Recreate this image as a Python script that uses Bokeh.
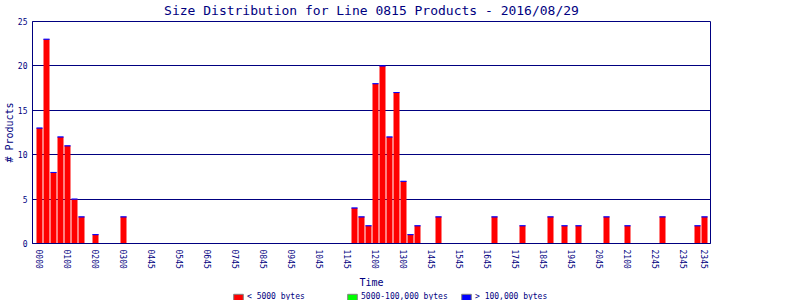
from bokeh.plotting import figure
from bokeh.layouts import column
from bokeh.models import ColumnDataSource, FixedTicker, Legend, LegendItem, Range1d
from bokeh.embed import file_html
from bokeh.resources import INLINE
import pandas as pd

TITLE = "Size Distribution for Line 0815 Products - 2016/08/29"
SERIES = ["< 5000 bytes", "5000-100,000 bytes", "> 100,000 bytes"]
COLORS = ["#ff0000", "#00ff00", "#0000ff"]

# 96 fifteen-minute bins (index 0 = 00:00 ... 95 = 23:45)
small = [13, 23, 8, 12, 11, 5, 3, 0, 1, 0, 0, 0,
         3, 0, 0, 0, 0, 0, 0, 0, 0, 0, 0, 0,
         0, 0, 0, 0, 0, 0, 0, 0, 0, 0, 0, 0,
         0, 0, 0, 0, 0, 0, 0, 0, 0, 4, 3, 2,
         18, 20, 12, 17, 7, 1, 2, 0, 0, 3, 0, 0,
         0, 0, 0, 0, 0, 3, 0, 0, 0, 2, 0, 0,
         0, 3, 0, 2, 0, 2, 0, 0, 0, 3, 0, 0,
         2, 0, 0, 0, 0, 3, 0, 0, 0, 0, 2, 3]
medium = [0] * 96
large = [0] * 96

tick_bins = [0, 4, 8, 12, 16, 20, 24, 28, 32, 36, 40, 44, 48, 52, 56, 60,
             64, 68, 72, 76, 80, 84, 88, 92, 95]
tick_labels = ["0000", "0100", "0200", "0300", "0445", "0545", "0645", "0745",
               "0845", "0945", "1045", "1145", "1200", "1300", "1445", "1545",
               "1645", "1745", "1845", "1945", "2045", "2100", "2245", "2345",
               "2345"]
y_ticks = [0, 5, 10, 15, 20, 25]

NAVY = "#000080"
FONT = "DejaVu Sans Mono"

df = pd.DataFrame({"bin": list(range(96)), "small": small, "medium": medium, "large": large})
df["s_m"] = df["small"] + df["medium"]
df["total"] = df["s_m"] + df["large"]
df = df[df["total"] > 0]
src = ColumnDataSource(df)

# ---------------- main chart ----------------
p = figure(width=800, height=290, output_backend="svg", toolbar_location=None,
           x_range=Range1d(-1, 95.857), y_range=Range1d(0, 25),
           min_border_left=32, min_border_right=90, min_border_top=20,
           min_border_bottom=48, title=TITLE)
p.frame_width = 678
p.frame_height = 222
p.background_fill_color = "white"
p.border_fill_color = "white"
p.outline_line_color = NAVY
p.outline_line_width = 1

p.title.text_font = FONT
p.title.text_font_size = "13px"
p.title.text_font_style = "normal"
p.title.text_color = NAVY
p.title.align = "center"
p.title.vertical_align = "top"
p.title.standoff = 4
p.title.offset = 0

W = 6 / 7
p.vbar(x="bin", bottom=0, top="small", width=W, source=src,
       fill_color=COLORS[0], line_color=None)
p.vbar(x="bin", bottom="small", top="s_m", width=W, source=src,
       fill_color=COLORS[1], line_color=None)
p.vbar(x="bin", bottom="s_m", top="total", width=W, source=src,
       fill_color=COLORS[2], line_color=COLORS[2], line_width=0.8)

p.xgrid.visible = False
p.ygrid.grid_line_color = NAVY
p.ygrid.grid_line_width = 1
p.ygrid.ticker = FixedTicker(ticks=y_ticks)

p.yaxis.ticker = FixedTicker(ticks=y_ticks)
p.xaxis.ticker = FixedTicker(ticks=tick_bins)
p.xaxis.major_label_overrides = {b: l for b, l in zip(tick_bins, tick_labels)}
p.xaxis.major_label_orientation = "vertical"

for ax in (p.xaxis[0], p.yaxis[0]):
    ax.axis_line_color = NAVY
    ax.major_tick_out = 0
    ax.major_tick_in = 0
    ax.minor_tick_out = 0
    ax.minor_tick_in = 0
    ax.major_label_text_font = FONT
    ax.major_label_text_font_size = "8px"
    ax.major_label_text_color = NAVY
    ax.axis_label_text_font = FONT
    ax.axis_label_text_font_size = "10px"
    ax.axis_label_text_font_style = "normal"
    ax.axis_label_text_color = NAVY

p.xaxis.major_label_standoff = 6
p.yaxis.major_label_standoff = 5
p.xaxis.axis_label = "Time"
p.xaxis.axis_label_standoff = 5
p.yaxis.axis_label = "# Products"
p.yaxis.axis_label_standoff = 0

# ---------------- legend strip ----------------
lf = figure(width=800, height=10, output_backend="svg", toolbar_location=None,
            x_axis_location=None, y_axis_location=None, min_border=0,
            x_range=Range1d(-1, 95.857), y_range=Range1d(0, 25))
lf.outline_line_color = None
lf.background_fill_color = "white"
lf.border_fill_color = "white"
lf.xgrid.visible = False
lf.ygrid.visible = False

proxies = [lf.vbar(x="bin", top="total", width=W, source=src, fill_color=c,
                   line_color="#808080", visible=False) for c in COLORS]
legend = Legend(items=[LegendItem(label=s, renderers=[r]) for s, r in zip(SERIES, proxies)],
                orientation="horizontal", location=(200, 0),
                glyph_width=12, glyph_height=8, label_standoff=3, spacing=0,
                label_width=99, padding=0, margin=0,
                border_line_alpha=0, background_fill_alpha=0,
                inactive_fill_alpha=0,
                label_text_font=FONT, label_text_font_size="8px",
                label_text_color=NAVY, label_height=8)
lf.add_layout(legend, "center")

layout = column(p, lf, spacing=0)
open("out.html", "w").write(file_html(layout, INLINE))
